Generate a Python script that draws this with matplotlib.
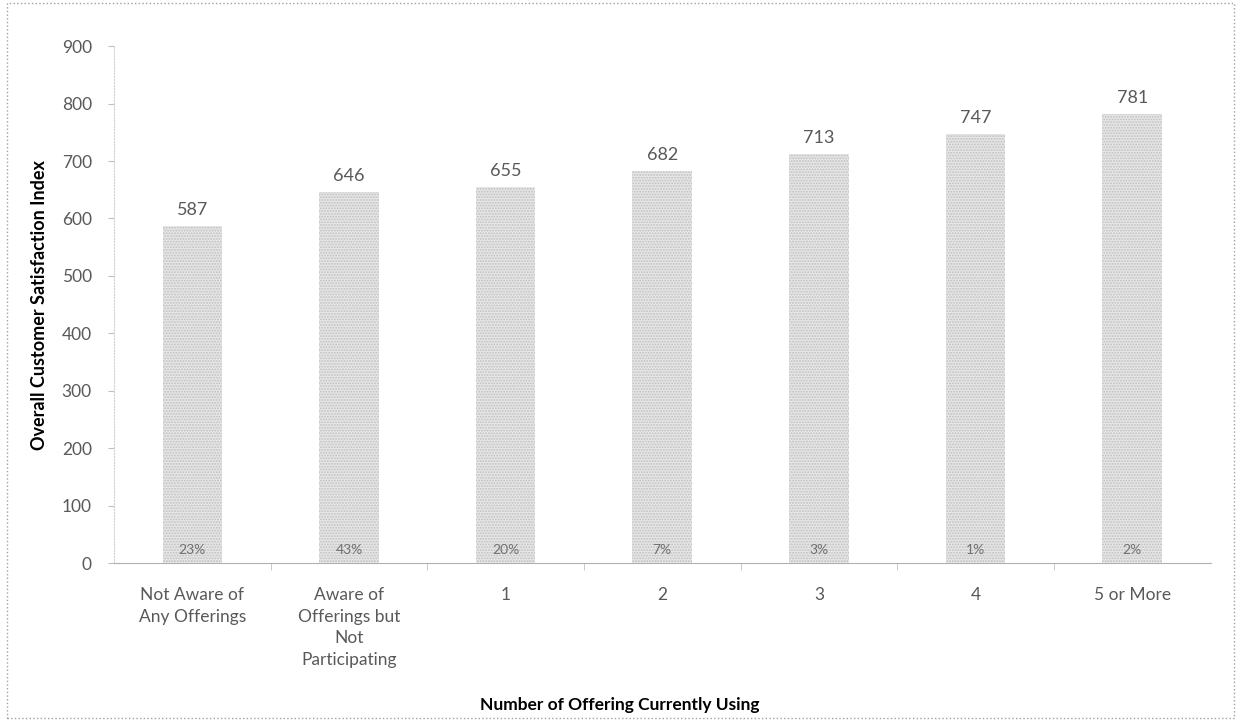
import matplotlib.pyplot as plt
from matplotlib.patches import Rectangle

categories = ['Not Aware of\nAny Offerings', 'Aware of\nOfferings but\nNot\nParticipating',
              '1', '2', '3', '4', '5 or More']
values = [587, 646, 655, 682, 713, 747, 781]
shares = ['23%', '43%', '20%', '7%', '3%', '1%', '2%']

plt.rcParams['font.family'] = ['Lato', 'DejaVu Sans']
plt.rcParams['hatch.color'] = '#a8a8a8'
plt.rcParams['hatch.linewidth'] = 0.9

fig = plt.figure(figsize=(12.39, 7.21), dpi=100)
ax = fig.add_axes([0.092, 0.219, 0.885, 0.717])

x = range(len(categories))
ax.bar(x, values, width=0.38, color='#e6e6e6', hatch='......', edgecolor='#c0c0c0', linewidth=0)

for i, v in enumerate(values):
    ax.text(i, v + 14, str(v), ha='center', va='bottom', fontsize=13, color='#595959')
    ax.text(i, 22, shares[i], ha='center', va='center', fontsize=10, color='#707070')

ax.set_xlim(-0.5, len(categories) - 0.5)
ax.set_ylim(0, 900)
ax.set_yticks(range(0, 901, 100))
ax.set_xticks(x)
ax.set_xticklabels(categories, fontsize=12.5, color='#595959', linespacing=1.45, va='top')
ax.set_xticks([i + 0.5 for i in range(len(categories) - 1)], minor=True)
ax.tick_params(axis='x', which='major', length=0, pad=17)
ax.tick_params(axis='x', which='minor', length=5, color='#c0c0c0')
ax.tick_params(axis='y', length=4, color='#c0c0c0', labelsize=12.5, labelcolor='#595959', pad=12)

for s in ['top', 'right']:
    ax.spines[s].set_visible(False)
ax.spines['left'].set_color('#d0d0d0')
ax.spines['left'].set_linestyle(':')
ax.spines['bottom'].set_color('#b0b0b0')
ax.spines['bottom'].set_linestyle((0, (2, 1)))

ax.set_ylabel('Overall Customer Satisfaction Index', fontsize=13, fontweight='bold', labelpad=10)
fig.text(0.5, 0.022, 'Number of Offering Currently Using', ha='center', va='center',
         fontsize=12.5, fontweight='bold')

fig.patches.append(Rectangle((0.006, 0.004), 0.99, 0.992, transform=fig.transFigure,
                             fill=False, edgecolor='#a0a0a0', linestyle=':', linewidth=1))

fig.savefig('out.png', dpi=100)
